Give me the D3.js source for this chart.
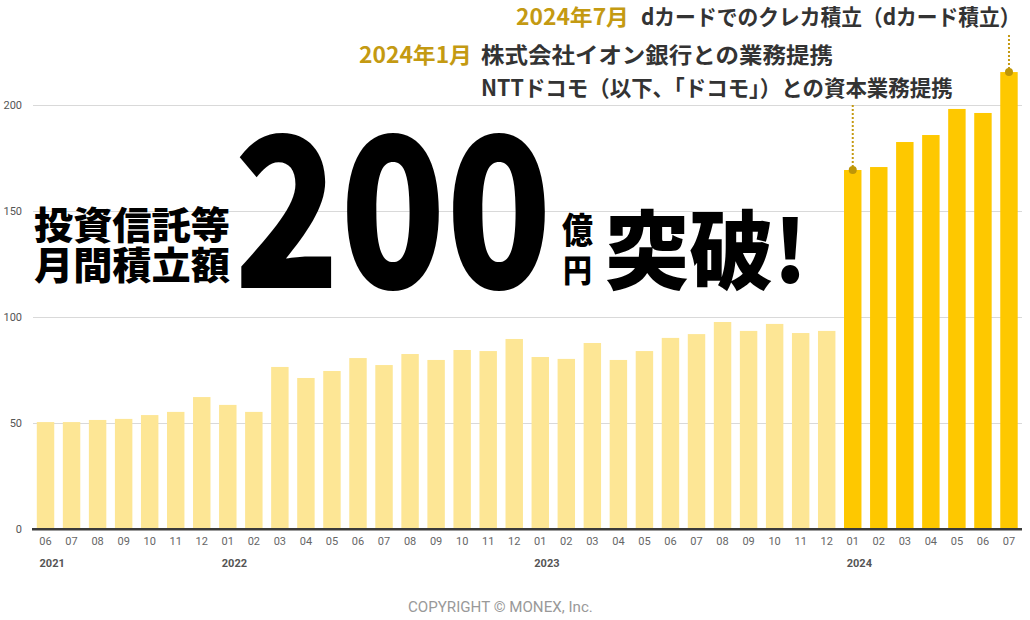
<!DOCTYPE html>
<html><head><meta charset="utf-8">
<script src="https://cdn.jsdelivr.net/npm/d3@7"></script>
<style>
html,body{margin:0;padding:0;background:#fff;}
svg{display:block;}
</style></head>
<body>
<svg id="chart" width="1030" height="620"></svg>
<script>
// ---------- data ----------
const categories = [
  "2021-06","2021-07","2021-08","2021-09","2021-10","2021-11","2021-12",
  "2022-01","2022-02","2022-03","2022-04","2022-05","2022-06","2022-07","2022-08","2022-09","2022-10","2022-11","2022-12",
  "2023-01","2023-02","2023-03","2023-04","2023-05","2023-06","2023-07","2023-08","2023-09","2023-10","2023-11","2023-12",
  "2024-01","2024-02","2024-03","2024-04","2024-05","2024-06","2024-07"
];
const values = [
  50.2, 50.2, 51.2, 51.7, 53.5, 55.0, 62.0,
  58.3, 55.0, 76.2, 71.0, 74.3, 80.4, 77.1, 82.3, 79.5, 84.2, 83.7, 89.4,
  80.9, 80.0, 87.5, 79.5, 83.7, 89.9, 91.7, 97.4, 93.2, 96.5, 92.2, 93.2,
  169.1, 170.5, 182.3, 185.6, 197.9, 196.0, 215.3
];
const highlightFrom = "2024-01";
const yTicks = [0, 50, 100, 150, 200];
const annotatedMonths = ["2024-07", "2024-01"];
const annotationYears = ["2024年7月", "2024年1月"];
const annotationLines = [
  ["dカードでのクレカ積立（dカード積立）"],
  ["株式会社イオン銀行との業務提携", "NTTドコモ（以下、「ドコモ」）との資本業務提携"]
];
const headlineLeft = ["投資信託等", "月間積立額"];
const headlineNumber = "200";
const headlineUnit = ["億", "円"];
const headlineRight = "突破!";
const copyright = "COPYRIGHT © MONEX, Inc.";

// ---------- setup ----------
const svg = d3.select("#chart");
const JP = "'Noto Sans CJK JP','Noto Sans',sans-serif";
const LAT = "Roboto,'Noto Sans',sans-serif";

// place a text so its advance width equals `width`, baseline at (x0, base)
function fit(parent, str, x0, base, width, attrs) {
  const g = parent.append("g");
  const t = g.append("text").attr("x", 0).attr("y", 0).text(str);
  Object.entries(attrs).forEach(([k, v]) => t.attr(k, v));
  const len = t.node().getComputedTextLength();
  const sx = width / len;
  g.attr("transform", `translate(${x0},${base}) scale(${sx},1)`);
  return g;
}

const x = d3.scaleBand().domain(categories).range([32.5, 1022]).paddingInner(0.33).paddingOuter(0.165);
const y = d3.scaleLinear().domain([0, 200]).range([528.5, 104.5]);

// gridlines
svg.append("g").selectAll("line").data(yTicks.filter(d => d > 0)).join("line")
  .attr("x1", 33).attr("x2", 1022)
  .attr("y1", d => Math.round(y(d)) + 0.5).attr("y2", d => Math.round(y(d)) + 0.5)
  .attr("stroke", "#d9d9d9").attr("stroke-width", 1);

// y labels
const yAxis = d3.axisLeft(y).tickValues(yTicks).tickSize(0).tickPadding(0);
const gy = svg.append("g").attr("transform", "translate(22,0)").call(yAxis);
gy.select(".domain").remove();
gy.selectAll("text").attr("font-family", LAT).attr("font-size", 11).attr("fill", "#555");

// headline big text (behind bars)
const hl = svg.append("g");
const H = {"fill": "#000", "font-family": JP, "font-weight": 900};
fit(hl, headlineLeft[0], 34, 239, 196, {...H, "font-size": 38});
fit(hl, headlineLeft[1], 34, 279, 196, {...H, "font-size": 38});
fit(hl, headlineNumber, 234, 288, 318, {...H, "font-size": 210});
fit(hl, headlineUnit[0], 562, 243, 31, {...H, "font-size": 35});
fit(hl, headlineUnit[1], 563, 282, 29, {...H, "font-size": 32});
fit(hl, headlineRight, 605, 283, 202, {...H, "font-size": 86});

// bars
const hiIdx = categories.indexOf(highlightFrom);
svg.append("g").selectAll("rect").data(categories).join("rect")
  .attr("x", d => x(d)).attr("width", x.bandwidth())
  .attr("y", (d, i) => y(values[i])).attr("height", (d, i) => y(0) - y(values[i]))
  .attr("fill", (d, i) => i >= hiIdx ? "#FEC800" : "#FDE695");

// baseline axis
svg.append("line").attr("x1", 32).attr("x2", 1022).attr("y1", 529.25).attr("y2", 529.25)
  .attr("stroke", "#3a3a3a").attr("stroke-width", 2.5);

// x axis labels
const xAxis = d3.axisBottom(x).tickSize(0).tickPadding(0).tickFormat(d => d.slice(5));
const gx = svg.append("g").attr("transform", "translate(0,537)").call(xAxis);
gx.select(".domain").remove();
gx.selectAll("text").attr("font-family", LAT).attr("font-size", 11).attr("fill", "#666").attr("dy", "0.71em");

// year labels
const yearStarts = categories.filter((d, i) => i === 0 || d.slice(5) === "01");
svg.append("g").selectAll("text").data(yearStarts).join("text")
  .attr("x", d => x(d) + x.bandwidth() / 2 - 6).attr("y", 567)
  .attr("font-family", LAT).attr("font-size", 11).attr("font-weight", 700).attr("fill", "#555")
  .text(d => d.slice(0, 4));

// annotation markers
const GOLD = "#C49A12";
const markerTop = [35, 105];
annotatedMonths.forEach((m, k) => {
  const i = categories.indexOf(m);
  const cx = x(m) + x.bandwidth() / 2;
  svg.append("line").attr("x1", cx).attr("x2", cx).attr("y1", markerTop[k]).attr("y2", y(values[i]))
    .attr("stroke", GOLD).attr("stroke-width", 2).attr("stroke-dasharray", "2,2");
  svg.append("circle").attr("cx", cx).attr("cy", y(values[i])).attr("r", 4).attr("fill", "#BE9608");
});

// annotation texts
const ann = svg.append("g");
const A = {"font-family": JP, "font-weight": 700, "font-size": 22};
fit(ann, annotationYears[0], 516, 25, 113, {...A, fill: GOLD});
fit(ann, annotationLines[0][0], 641, 25, 380, {...A, fill: "#333"});
fit(ann, annotationYears[1], 359, 63, 113, {...A, fill: GOLD});
fit(ann, annotationLines[1][0], 481, 63, 352, {...A, fill: "#333"});
fit(ann, annotationLines[1][1], 481, 96, 472, {...A, fill: "#333"});

// copyright
fit(svg, copyright, 408, 612, 185, {"font-family": LAT, "font-size": 14, "fill": "#999"});
</script>
</body></html>
